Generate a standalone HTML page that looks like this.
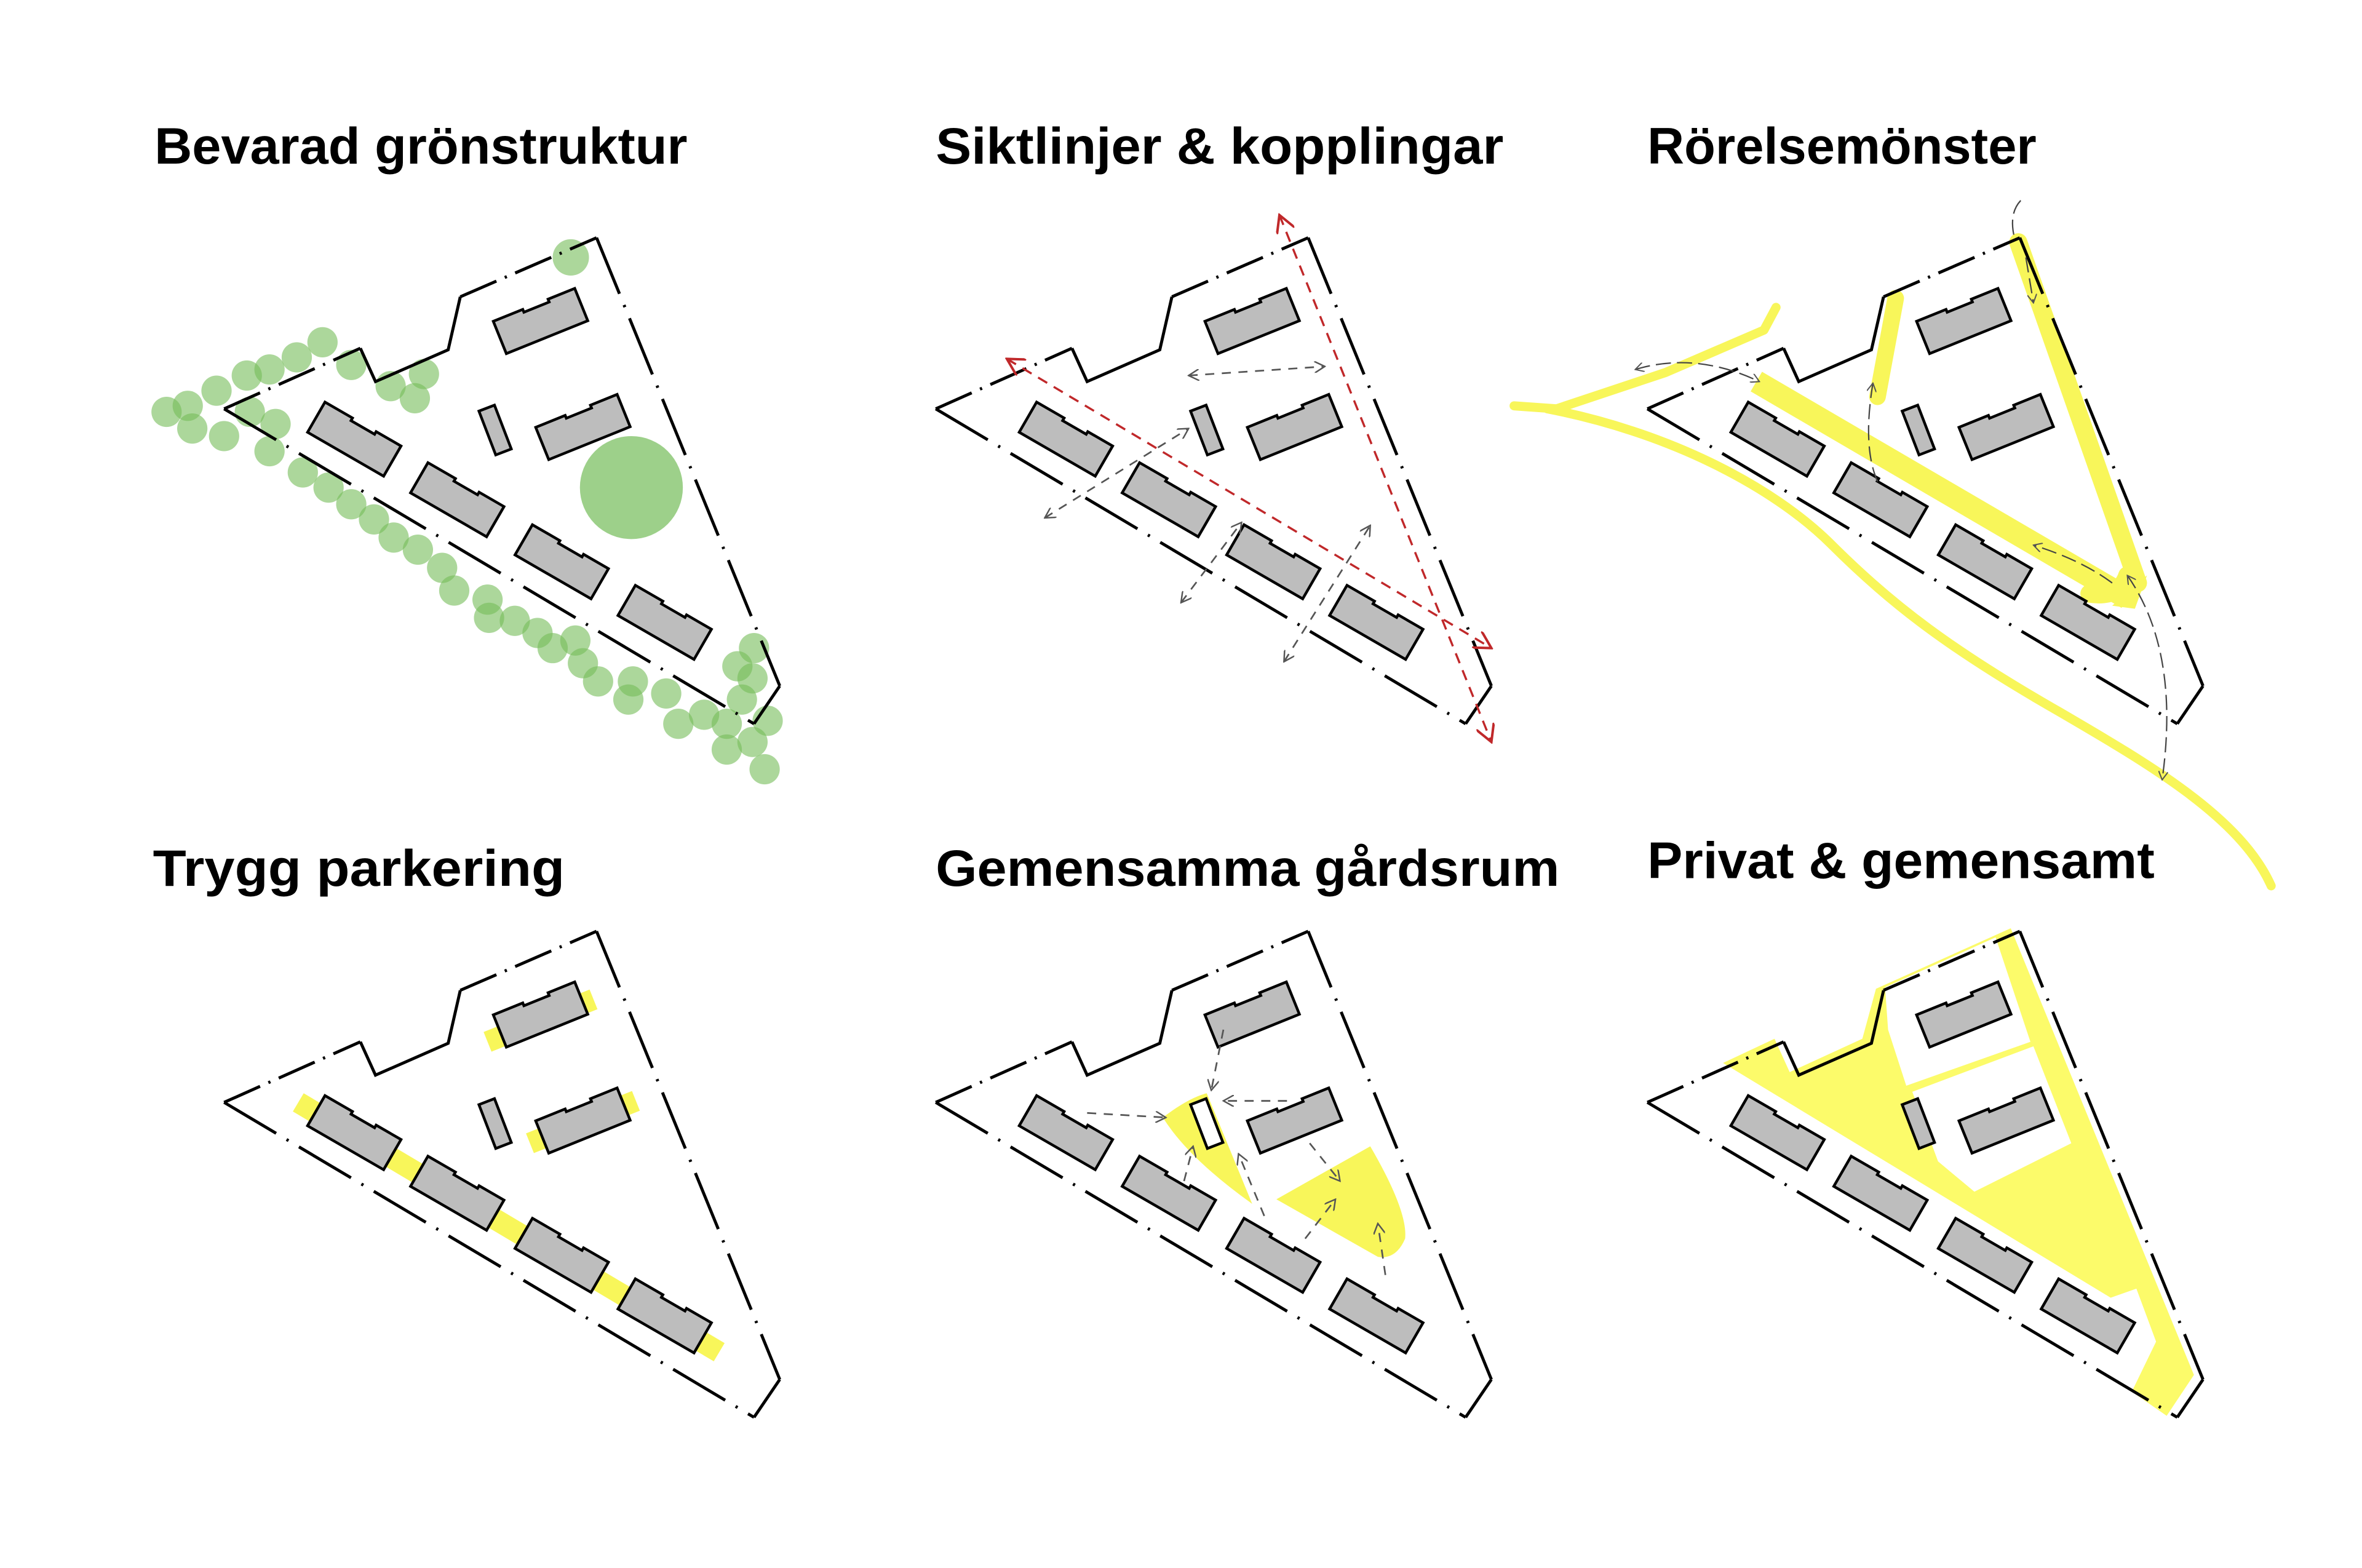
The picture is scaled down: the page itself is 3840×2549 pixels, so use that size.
<!DOCTYPE html>
<html><head><meta charset="utf-8"><style>
html,body{margin:0;padding:0;background:#fff;}
svg{display:block;}
text{font-family:"Liberation Sans",sans-serif;font-size:34px;font-weight:bold;fill:#000;}
</style></head><body>
<svg width="3840" height="2549" viewBox="0 0 1560 1035.5" preserveAspectRatio="none" xmlns="http://www.w3.org/2000/svg">
<defs>
<g id="bld">
<path d="M-29,-11.5 L-8,-11.5 L-8,-9.5 L10,-9.5 L10,-11.5 L29,-11.5 L29,11.5 L-29,11.5 Z" fill="#bdbdbd" stroke="#000" stroke-width="1.8"/>
</g>
<g id="bound" fill="none" stroke="#000" stroke-width="2">
<path d="M238,230 L248,252 L296,231 L304,196" />
<path d="M498,478 L515,453" />
<path d="M148,270 L238,230" stroke-dasharray="26 6 1.5 6"/>
<path d="M304,196 L394,157" stroke-dasharray="26 6 1.5 6"/>
<path d="M394,157 L515,453" stroke-dasharray="40 8 1.5 8"/>
<path d="M148,270 L498,478" stroke-dasharray="40 8 1.5 8"/>
</g>
<g id="blds">
<use href="#bld" transform="translate(234,290) rotate(30)"/>
<use href="#bld" transform="translate(302,330) rotate(30)"/>
<use href="#bld" transform="translate(371,371) rotate(30)"/>
<use href="#bld" transform="translate(439,411) rotate(30)"/>
<use href="#bld" transform="translate(357,212) rotate(-22)"/>
<use href="#bld" transform="translate(385,282) rotate(-22)"/>
</g>
<rect id="small" x="-5.5" y="-15.5" width="11" height="31" fill="#bdbdbd" stroke="#000" stroke-width="1.8"/>
<g id="site"><use href="#bound"/><use href="#blds"/><use href="#small" transform="translate(327,284) rotate(-21)"/></g>
<marker id="ar" viewBox="0 0 10 10" refX="9" refY="5" markerWidth="7" markerHeight="7" orient="auto-start-reverse"><path d="M0,0 L9,5 L0,10" fill="none" stroke="#555" stroke-width="1.3"/></marker>
<marker id="arr" viewBox="0 0 10 10" refX="9" refY="5" markerWidth="9" markerHeight="9" orient="auto-start-reverse"><path d="M0,0 L9,5 L0,10" fill="none" stroke="#c0282a" stroke-width="1.3"/></marker>
</defs>

<!-- titles -->
<text x="102" y="108" textLength="352" lengthAdjust="spacingAndGlyphs">Bevarad grönstruktur</text>
<text x="618" y="108" textLength="375" lengthAdjust="spacingAndGlyphs">Siktlinjer &amp; kopplingar</text>
<text x="1088" y="108" textLength="257" lengthAdjust="spacingAndGlyphs">Rörelsemönster</text>
<text x="101" y="585" textLength="272" lengthAdjust="spacingAndGlyphs">Trygg parkering</text>
<text x="618" y="585" textLength="412" lengthAdjust="spacingAndGlyphs">Gemensamma gårdsrum</text>
<text x="1088" y="580" textLength="335" lengthAdjust="spacingAndGlyphs">Privat &amp; gemensamt</text>

<!-- panel 1 trees -->
<g fill="#74bc58" fill-opacity="0.6">
<circle cx="417" cy="322" r="34" fill-opacity="0.7"/>
<circle cx="110" cy="272" r="10"/><circle cx="127" cy="283" r="10"/><circle cx="124" cy="268" r="10"/><circle cx="143" cy="258" r="10"/><circle cx="163" cy="248" r="10"/><circle cx="178" cy="244" r="10"/><circle cx="196" cy="236" r="10"/><circle cx="213" cy="226" r="10"/><circle cx="232" cy="241" r="10"/><circle cx="148" cy="288" r="10"/><circle cx="165" cy="272" r="10"/><circle cx="182" cy="280" r="10"/><circle cx="178" cy="298" r="10"/><circle cx="200" cy="312" r="10"/><circle cx="217" cy="322" r="10"/><circle cx="232" cy="333" r="10"/><circle cx="247" cy="343" r="10"/><circle cx="260" cy="355" r="10"/><circle cx="276" cy="363" r="10"/><circle cx="292" cy="375" r="10"/><circle cx="300" cy="390" r="10"/><circle cx="322" cy="396" r="10"/><circle cx="323" cy="408" r="10"/><circle cx="340" cy="410" r="10"/><circle cx="355" cy="418" r="10"/><circle cx="365" cy="428" r="10"/><circle cx="380" cy="423" r="10"/><circle cx="385" cy="438" r="10"/><circle cx="395" cy="450" r="10"/><circle cx="418" cy="450" r="10"/><circle cx="415" cy="462" r="10"/><circle cx="440" cy="458" r="10"/><circle cx="448" cy="478" r="10"/><circle cx="465" cy="472" r="10"/><circle cx="480" cy="478" r="10"/><circle cx="490" cy="462" r="10"/><circle cx="497" cy="448" r="10"/><circle cx="498" cy="428" r="10"/><circle cx="487" cy="440" r="10"/><circle cx="480" cy="495" r="10"/><circle cx="497" cy="490" r="10"/><circle cx="507" cy="476" r="10"/><circle cx="505" cy="508" r="10"/><circle cx="258" cy="255" r="10"/><circle cx="274" cy="263" r="10"/><circle cx="280" cy="247" r="10"/><circle cx="377" cy="170" r="12"/>
</g>
<use href="#site"/>

<!-- panel 2 -->
<g transform="translate(470,0)"><use href="#site"/></g>
<g fill="none" stroke="#c0282a" stroke-width="1.4" stroke-dasharray="7 5">
<path d="M845,142 L985,490" marker-start="url(#arr)" marker-end="url(#arr)"/>
<path d="M665,237 L985,428" marker-start="url(#arr)" marker-end="url(#arr)"/>
</g>
<g fill="none" stroke="#555" stroke-width="1.1" stroke-dasharray="6 5">
<path d="M785,248 L875,242" marker-start="url(#ar)" marker-end="url(#ar)"/>
<path d="M690,342 L785,283" marker-start="url(#ar)" marker-end="url(#ar)"/>
<path d="M780,398 L820,345" marker-start="url(#ar)" marker-end="url(#ar)"/>
<path d="M848,437 L905,347" marker-start="url(#ar)" marker-end="url(#ar)"/>
</g>

<!-- panel 3 -->
<g fill="none" stroke="#f8f65a" stroke-linecap="round" stroke-linejoin="round">
<path d="M1000,268 L1028,270 L1100,246 L1165,218 L1173,203" stroke-width="6"/>
<path d="M1022,270 C1100,285 1170,320 1210,360 C1250,400 1290,430 1360,470 C1420,505 1480,540 1500,585" stroke-width="6"/>
<path d="M1160,252 L1405,395" stroke-width="15" stroke-linecap="butt"/>
<path d="M1252,197 L1240,262" stroke-width="11"/>
<path d="M1333,160 L1412,385" stroke-width="12"/>
<path d="M1405,380 Q1400,395 1380,392" stroke-width="12"/>
</g>
<path d="M1395,400 L1418,380 L1410,402 Z" fill="#f8f65a"/>
<g transform="translate(940,0)"><use href="#site"/></g>
<g fill="none" stroke="#444" stroke-width="0.9" stroke-dasharray="10 4">
<path d="M1080,244 Q1120,232 1162,252" marker-start="url(#ar)" marker-end="url(#ar)"/>
<path d="M1330,155 Q1327,140 1335,132"/>
<path d="M1338,170 L1343,200" marker-end="url(#ar)"/>
<path d="M1240,318 Q1230,295 1237,253" marker-end="url(#ar)"/>
<path d="M1395,385 Q1375,370 1343,360" marker-end="url(#ar)"/>
<path d="M1405,380 Q1440,430 1428,515" marker-start="url(#ar)" marker-end="url(#ar)"/>
</g>

<!-- panel 4 -->
<g fill="none" stroke="#f8f65a" stroke-width="14">
<path d="M197,728 L475,893"/>
<path d="M322,688 L392,660"/>
<path d="M350,755 L420,727"/>
</g>
<g transform="translate(0,458)"><use href="#site"/></g>

<!-- panel 5 -->
<path d="M768,738 Q785,725 797,722 L827,795 Q785,765 768,738 Z" fill="#f8f65a"/>
<path d="M843,792 L905,757 Q930,800 928,818 Q922,832 910,830 Z" fill="#f8f65a"/>
<g transform="translate(470,458)"><use href="#bound"/><use href="#blds"/></g>
<rect x="-5.5" y="-15.5" width="11" height="31" fill="#fff" stroke="#000" stroke-width="1.8" transform="translate(797,742) rotate(-21)"/>
<g fill="none" stroke="#555" stroke-width="1.1" stroke-dasharray="6 5">
<path d="M718,735 L770,738" marker-end="url(#ar)"/>
<path d="M850,727 L808,727" marker-end="url(#ar)"/>
<path d="M808,680 L800,720" marker-end="url(#ar)"/>
<path d="M782,780 L788,757" marker-end="url(#ar)"/>
<path d="M835,803 L818,762" marker-end="url(#ar)"/>
<path d="M865,755 L885,780" marker-end="url(#ar)"/>
<path d="M862,818 L882,792" marker-end="url(#ar)"/>
<path d="M915,842 L910,808" marker-end="url(#ar)"/>
</g>

<!-- panel 6 -->
<path d="M1138,702 L1172,686 L1182,708 L1230,686 L1239,653 L1328,613 L1449,908 L1431,935 L1408,919 L1424,886 L1411,851 L1394,857 Z" fill="#fcfb6a"/>
<path d="M1245,652 L1318,619 L1341,688 L1259,717 L1247,680 Z" fill="#fff"/>
<path d="M1263,721 L1343,691 L1368,755 L1304,787 L1280,767 Z" fill="#fff"/>
<g transform="translate(940,458)"><use href="#site"/></g>
</svg>
</body></html>
